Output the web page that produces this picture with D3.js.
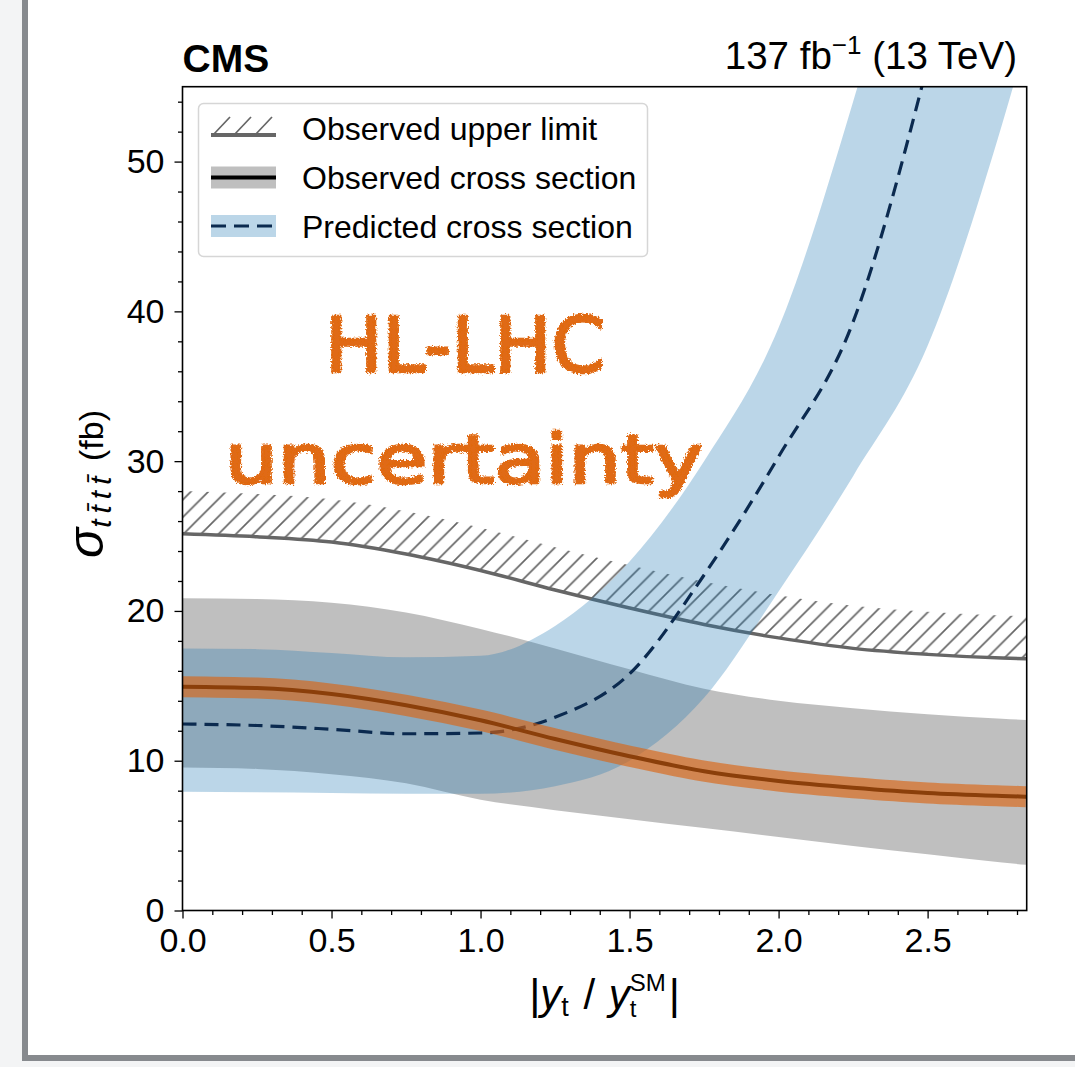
<!DOCTYPE html>
<html>
<head>
<meta charset="utf-8">
<script src="https://cdn.jsdelivr.net/npm/d3@7"></script>
<style>
  body { margin: 0; background: #f3f4f5; }
  svg { display: block; font-family: "Liberation Sans", Arial, Helvetica, sans-serif; }
</style>
</head>
<body>
<svg id="chart" width="1075" height="1067"></svg>
<script>
const couplings = [0, 0.25, 0.5, 0.75, 1.0, 1.25, 1.5, 1.75, 2.0, 2.25, 2.5, 2.75, 2.83];

// observed 95% upper limit and top edge of its hatched band
const obsLimit = [25.15, 24.95, 24.6, 23.8, 22.7, 21.4, 20.2, 19.1, 18.2, 17.5, 17.1, 16.85, 16.8];
const obsLimitHatch = [28.0, 27.8, 27.45, 26.65, 25.55, 24.25, 23.05, 21.95, 21.05, 20.35, 19.95, 19.7, 19.65];

// observed cross section with its band
const obsCentral = [14.94, 14.85, 14.45, 13.7, 12.7, 11.45, 10.3, 9.3, 8.65, 8.2, 7.85, 7.65, 7.6];
const obsUp = [20.85, 20.8, 20.55, 19.9, 18.8, 17.5, 16.1, 14.8, 14.0, 13.5, 13.1, 12.8, 12.72];
const obsDown = [9.55, 9.45, 9.1, 8.5, 7.4, 6.7, 6.1, 5.5, 4.9, 4.3, 3.75, 3.2, 3.05];

// predicted cross section with its band
const predCentral = [12.45, 12.35, 12.1, 11.8, 11.85, 12.9, 15.8, 22.4, 30.3, 39.3, 56.5, 78, 86];
const predUp = [17.5, 17.45, 17.2, 16.9, 17.0, 19.0, 23.3, 30.0, 38.9, 54.0, 72, 95, 103];
const predDown = [7.93, 7.9, 7.85, 7.8, 7.8, 8.3, 10.0, 14.2, 21.3, 29.0, 37.7, 52.5, 58];

const xTicks = [0, 0.5, 1.0, 1.5, 2.0, 2.5];
const yTicks = [0, 10, 20, 30, 40, 50];
const legendLabels = ["Observed upper limit", "Observed cross section", "Predicted cross section"];

const width = 1075;
const height = 1067;
const margin = { top: 86.7, right: 48.3, bottom: 156.5, left: 182.5 };

const svg = d3.select("#chart");

// page frame
svg.append("rect")
  .attr("x", 25).attr("y", -10)
  .attr("width", 1100).attr("height", 1068)
  .attr("fill", "#fff")
  .attr("stroke", "#878a8e")
  .attr("stroke-width", 6);

const x = d3.scaleLinear()
  .domain([0, 2.8325])
  .range([margin.left, width - margin.right]);

const y = d3.scaleLinear()
  .domain([0, 55])
  .range([height - margin.bottom, margin.top]);

const rows = couplings.map((c, i) => ({
  c: c,
  lim: obsLimit[i],
  hatch: obsLimitHatch[i],
  obs: obsCentral[i],
  obsUp: obsUp[i],
  obsDown: obsDown[i],
  pred: predCentral[i],
  predUp: predUp[i],
  predDown: predDown[i]
}));

const defs = svg.append("defs");
defs.append("clipPath").attr("id", "plot-clip")
  .append("rect")
  .attr("x", x(0)).attr("y", y(55))
  .attr("width", x(2.8325) - x(0)).attr("height", y(0) - y(55));

const hatch = defs.append("pattern")
  .attr("id", "hatch")
  .attr("patternUnits", "userSpaceOnUse")
  .attr("width", 17.5).attr("height", 17.5);
hatch.append("path")
  .attr("d", "M0,17.5 L17.5,0 M-4,4 L4,-4 M13.5,21.5 L21.5,13.5")
  .attr("stroke", "#666").attr("stroke-width", 1.7);

// rough edges for the hand written note
const rough = defs.append("filter").attr("id", "rough")
  .attr("x", "-5%").attr("y", "-10%").attr("width", "110%").attr("height", "120%");
rough.append("feTurbulence")
  .attr("type", "fractalNoise").attr("baseFrequency", 0.6)
  .attr("numOctaves", 2).attr("seed", 3).attr("result", "noise");
rough.append("feDisplacementMap")
  .attr("in", "SourceGraphic").attr("in2", "noise")
  .attr("scale", 5.5)
  .attr("xChannelSelector", "R").attr("yChannelSelector", "G");

const curve = d3.curveMonotoneX;

function band(lo, hi) {
  return d3.area().curve(curve).x(d => x(d.c)).y0(d => y(d[lo])).y1(d => y(d[hi]));
}
function line(key) {
  return d3.line().curve(curve).x(d => x(d.c)).y(d => y(d[key]));
}

const plot = svg.append("g").attr("clip-path", "url(#plot-clip)");

// observed band (grey)
plot.append("path").datum(rows)
  .attr("d", band("obsDown", "obsUp"))
  .attr("fill", "#000").attr("fill-opacity", 0.25);

// upper limit hatch and line
plot.append("path").datum(rows)
  .attr("d", band("lim", "hatch"))
  .attr("fill", "url(#hatch)");
plot.append("path").datum(rows)
  .attr("d", line("lim"))
  .attr("fill", "none").attr("stroke", "#666").attr("stroke-width", 3.5);

// predicted band (blue)
plot.append("path").datum(rows)
  .attr("d", band("predDown", "predUp"))
  .attr("fill", "#1f77b4").attr("fill-opacity", 0.3);

plot.append("path").datum(rows)
  .attr("d", line("pred"))
  .attr("fill", "none").attr("stroke", "#0b2a4f")
  .attr("stroke-width", 3.2).attr("stroke-dasharray", "14,8");

// observed central line
plot.append("path").datum(rows)
  .attr("d", line("obs"))
  .attr("fill", "none").attr("stroke", "#000").attr("stroke-width", 4);

// HL-LHC highlight over the observed line
plot.append("path").datum(rows)
  .attr("d", line("obs"))
  .attr("fill", "none").attr("stroke", "#dc6410").attr("stroke-opacity", 0.63)
  .attr("stroke-width", 21);

// hand written note
const note = svg.append("g").attr("filter", "url(#rough)")
  .attr("fill", "#e06a12").attr("stroke", "#e06a12").attr("stroke-width", 2.6)
  .attr("stroke-linejoin", "round")
  .style("font-family", "'DejaVu Sans', sans-serif");
note.append("text")
  .attr("x", 325).attr("y", 372)
  .attr("font-size", 77)
  .attr("textLength", 280).attr("lengthAdjust", "spacingAndGlyphs")
  .text("HL-LHC");
note.append("text")
  .attr("x", 225).attr("y", 483)
  .attr("font-size", 68)
  .attr("textLength", 478).attr("lengthAdjust", "spacingAndGlyphs")
  .text("uncertainty");

// axes
const tickFont = 34;
svg.append("g")
  .attr("transform", `translate(${x(0)},0)`)
  .call(d3.axisLeft(y).tickValues(yTicks).tickSize(8).tickPadding(10).tickFormat(d3.format("d")));
svg.append("g")
  .attr("transform", `translate(${x(0)},0)`)
  .call(d3.axisLeft(y).tickValues(d3.range(0, 56, 2).filter(v => v % 10 !== 0)).tickSize(4.5).tickFormat(""));

svg.append("g")
  .attr("transform", `translate(0,${y(0)})`)
  .call(d3.axisBottom(x).tickValues(xTicks).tickSize(8).tickPadding(9).tickFormat(d3.format(".1f")));
svg.append("g")
  .attr("transform", `translate(0,${y(0)})`)
  .call(d3.axisBottom(x).tickValues(d3.range(1, 29).map(v => v / 10).filter(v => Math.round(v * 10) % 5 !== 0)).tickSize(4.5).tickFormat(""));

svg.selectAll(".domain").remove();
svg.selectAll(".tick line").attr("stroke", "#000").attr("stroke-width", 1.3);
svg.selectAll(".tick text")
  .attr("fill", "#000")
  .style("font-size", tickFont + "px")
  .style("font-family", "'Liberation Sans', Arial, sans-serif");

// plot frame
svg.append("rect")
  .attr("x", x(0)).attr("y", y(55))
  .attr("width", x(2.8325) - x(0)).attr("height", y(0) - y(55))
  .attr("fill", "none").attr("stroke", "#000").attr("stroke-width", 1.6);

// header texts
svg.append("text")
  .attr("x", x(0)).attr("y", 71.5)
  .attr("font-size", 39).attr("font-weight", "bold")
  .text("CMS");

const lumi = svg.append("text")
  .attr("x", 1017).attr("y", 68.5)
  .attr("text-anchor", "end")
  .attr("font-size", 38.5);
lumi.append("tspan").text("137 fb");
lumi.append("tspan").attr("font-size", 26).attr("dy", -15).text("\u22121");
lumi.append("tspan").attr("dy", 15).text(" (13 TeV)");

// x label
const subSize = 24;
const xLabel = svg.append("text")
  .attr("x", (x(0) + x(2.8325)) / 2).attr("y", 1009)
  .attr("text-anchor", "middle")
  .attr("font-size", 42);
const tmp = svg.append("text").attr("font-size", subSize).text("t");
const tWidth = tmp.node().getComputedTextLength();
tmp.remove();
xLabel.append("tspan").attr("font-size", 43).text("|");
xLabel.append("tspan").attr("font-style", "italic").text("y");
xLabel.append("tspan").attr("font-size", subSize + 3).attr("dy", 7).text("t");
xLabel.append("tspan").attr("dy", -7).attr("dx", 3).text(" / ");
xLabel.append("tspan").attr("font-style", "italic").attr("dx", 2).text("y");
xLabel.append("tspan").attr("font-size", subSize).attr("dy", 8).text("t");
xLabel.append("tspan").attr("font-size", subSize).attr("dx", -tWidth).attr("dy", -26).text("SM");
xLabel.append("tspan").attr("font-size", 43).attr("dx", 3).attr("dy", 18).text("|");

// y label
const yLabel = svg.append("text")
  .attr("transform", "translate(103,484) rotate(-90)")
  .attr("text-anchor", "middle")
  .attr("font-size", 34);
yLabel.append("tspan").attr("font-style", "italic").attr("font-size", 50).text("\u03c3");
yLabel.append("tspan").attr("font-style", "italic").attr("font-size", 30).attr("dy", 8)
  .attr("letter-spacing", 6)
  .text("tt\u0304tt\u0304");
yLabel.append("tspan").attr("dy", -8).text(" (fb)");

// legend
const legend = svg.append("g");
legend.append("rect")
  .attr("x", 198.5).attr("y", 103.5)
  .attr("width", 449).attr("height", 153)
  .attr("rx", 5)
  .attr("fill", "#fff").attr("fill-opacity", 0.85)
  .attr("stroke", "#d6d6d6").attr("stroke-width", 1.5);

const handleX = 211;
const handleW = 65;
const rowY = [128, 177.5, 226];

// row 1: hatched limit
legend.selectAll("line.hatch-mark")
  .data([0, 1, 2])
  .join("line")
  .attr("class", "hatch-mark")
  .attr("x1", d => handleX + 2 + d * 21).attr("y1", rowY[0] + 7)
  .attr("x2", d => handleX + 19 + d * 21).attr("y2", rowY[0] - 11)
  .attr("stroke", "#666").attr("stroke-width", 1.7);
legend.append("line")
  .attr("x1", handleX).attr("x2", handleX + handleW)
  .attr("y1", rowY[0] + 7).attr("y2", rowY[0] + 7)
  .attr("stroke", "#666").attr("stroke-width", 4);

// row 2: observed
legend.append("rect")
  .attr("x", handleX).attr("y", rowY[1] - 11)
  .attr("width", handleW).attr("height", 22)
  .attr("fill", "#000").attr("fill-opacity", 0.25);
legend.append("line")
  .attr("x1", handleX).attr("x2", handleX + handleW)
  .attr("y1", rowY[1]).attr("y2", rowY[1])
  .attr("stroke", "#000").attr("stroke-width", 4);

// row 3: predicted
legend.append("rect")
  .attr("x", handleX).attr("y", rowY[2] - 11)
  .attr("width", handleW).attr("height", 22)
  .attr("fill", "#1f77b4").attr("fill-opacity", 0.3);
legend.append("line")
  .attr("x1", handleX).attr("x2", handleX + handleW)
  .attr("y1", rowY[2]).attr("y2", rowY[2])
  .attr("stroke", "#0b2a4f").attr("stroke-width", 3.2)
  .attr("stroke-dasharray", "15,8");

legend.selectAll("text.label")
  .data(legendLabels)
  .join("text")
  .attr("class", "label")
  .attr("x", 302)
  .attr("y", (d, i) => rowY[i] + 11.5)
  .attr("font-size", 32)
  .text(d => d);
</script>
</body>
</html>
